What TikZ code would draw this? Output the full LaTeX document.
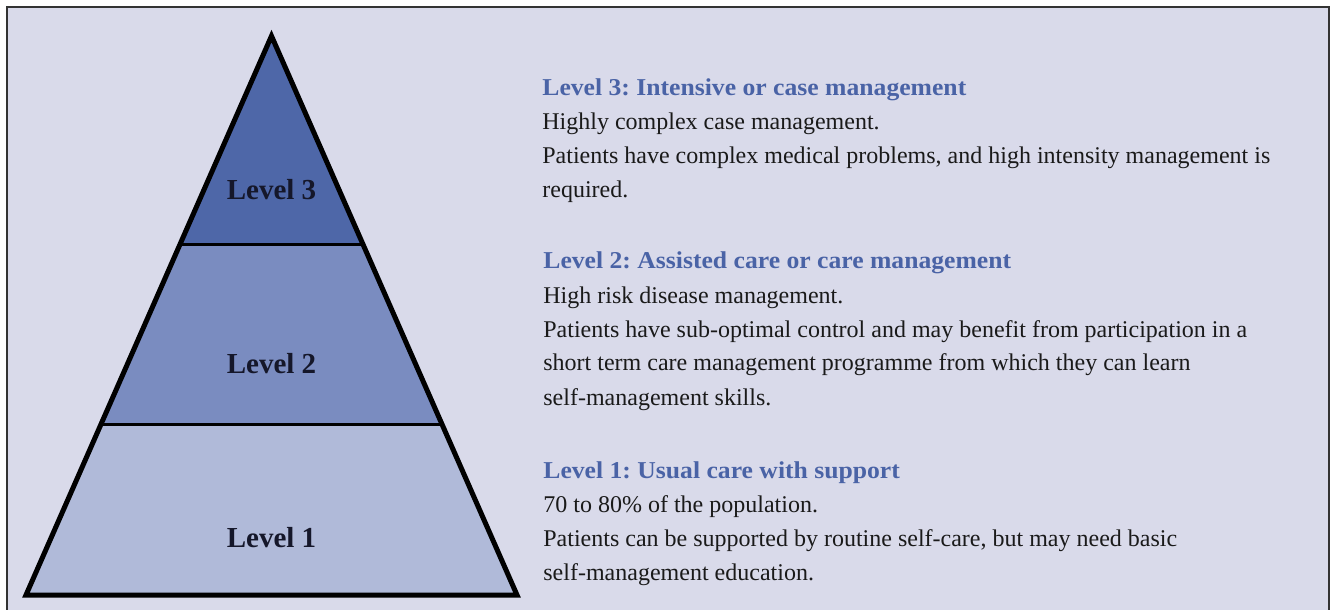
\documentclass[tikz,border=0pt]{standalone}
\usepackage{fontspec}
\usetikzlibrary{calc}
\setmainfont{Liberation Serif}
\newfontfamily\bodyfont{Liberation Serif}
\newfontfamily\titlefont{Liberation Serif}[FakeStretch=1.06]
\definecolor{bgc}{HTML}{D9DAEA}
\definecolor{lvthree}{HTML}{4E67A8}
\definecolor{lvtwo}{HTML}{7A8CC0}
\definecolor{lvone}{HTML}{B0BAD9}
\definecolor{ttlblue}{HTML}{4A63A6}
\definecolor{txt}{HTML}{1A1A1A}
\definecolor{lbl}{HTML}{15172A}
\tikzset{
  body/.style={anchor=base west, inner sep=0pt, text=txt, font=\bodyfont\frenchspacing\fontsize{12}{14}\selectfont},
  ttl/.style={anchor=base west, inner sep=0pt, text=ttlblue, font=\titlefont\frenchspacing\bfseries\fontsize{12.1}{14}\selectfont},
  lvl/.style={anchor=base, inner sep=0pt, text=lbl, font=\bfseries\fontsize{14.5}{16}\selectfont},
  outline/.style={line width=2.5pt, line join=miter, draw=black},
  divider/.style={line width=1.5pt, draw=black},
}
\begin{document}
\begin{tikzpicture}[x=0.5pt, y=-0.5pt]
\useasboundingbox (0,0) rectangle (1335,610);
\fill[white] (0,0) rectangle (1335,610);
\fill[bgc] (7,7) rectangle (1329,640);
\draw[line width=0.75pt, draw=black!80] (7,640) -- (7,7) -- (1329,7) -- (1329,640);
% pyramid
\coordinate (apex) at (271.5,36);
\coordinate (bl) at (26,595);
\coordinate (br) at (517,595);
\coordinate (d3l) at ($(apex)!0.3721!(bl)$);
\coordinate (d3r) at ($(apex)!0.3721!(br)$);
\coordinate (d2l) at ($(apex)!0.6941!(bl)$);
\coordinate (d2r) at ($(apex)!0.6941!(br)$);
\fill[lvone] (bl) -- (br) -- (apex) -- cycle;
\fill[lvtwo] (d2l) -- (d2r) -- (apex) -- cycle;
\fill[lvthree] (d3l) -- (d3r) -- (apex) -- cycle;
\draw[divider] (d3l) -- (d3r);
\draw[divider] (d2l) -- (d2r);
\draw[outline] (bl) -- (br) -- (apex) -- cycle;
\node[lvl] (lv3) at (271.5,199) {Level 3};
\node[lvl] (lv2) at (271.5,373) {Level 2};
\node[lvl] (lv1) at (271.5,547) {Level 1};
% texts level 3
\node[ttl] (t3) at (542,96) {Level 3: Intensive or case management};
\node[body] (t3a) at (542,130) {Highly complex case management.};
\node[body] (t3b) at (542,164) {Patients have complex medical problems, and high intensity management is};
\node[body] (t3c) at (542,198) {required.};
% level 2
\node[ttl] (t2) at (543,269) {Level 2: Assisted care or care management};
\node[body] (t2a) at (543,303) {High risk disease management.};
\node[body] (t2b) at (543,337) {Patients have sub-optimal control and may benefit from participation in a};
\node[body] (t2c) at (543,371) {short term care management programme from which they can learn};
\node[body] (t2d) at (543,405) {self-management skills.};
% level 1
\node[ttl] (t1) at (543,478) {Level 1: Usual care with support};
\node[body] (t1a) at (543,512) {70 to 80\% of the population.};
\node[body] (t1b) at (543,546) {Patients can be supported by routine self-care, but may need basic};
\node[body] (t1c) at (543,580) {self-management education.};
\end{tikzpicture}
\end{document}
